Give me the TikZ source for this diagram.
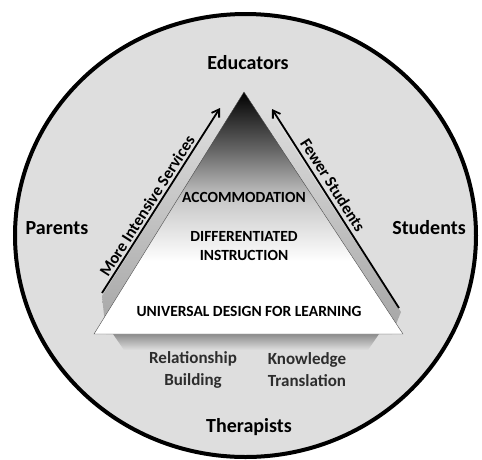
\documentclass[tikz,border=0pt]{standalone}
\usepackage{fontspec}
\setmainfont{Carlito}
\usetikzlibrary{arrows.meta}

\definecolor{fondo}{RGB}{222,222,222}
\definecolor{sombra}{RGB}{165,165,165}
\definecolor{textogris}{RGB}{45,45,45}
\pgfdeclareverticalshading{piramide}{100bp}{color(0bp)=(white); color(40bp)=(white);
  color(53bp)=(black!22); color(63bp)=(black!60); color(75bp)=(black); color(100bp)=(black)}

\begin{document}
\begin{tikzpicture}[x=1pt, y=-1pt,
    actor/.style={font=\fontsize{20}{22}\selectfont\bfseries},
    nivel/.style={font=\fontsize{15.5}{19}\selectfont\bfseries, align=center},
    puente/.style={font=\fontsize{17}{22}\selectfont\bfseries, text=textogris, align=center},
    flecha/.style={line width=1.8pt, -{Straight Barb[length=7pt,width=9pt]}},
    rotulo/.style={font=\fontsize{16.5}{17}\selectfont\bfseries}]
    \useasboundingbox (0,0) rectangle (482,459);

    % Círculo exterior
    \draw[line width=4pt, fill=fondo] (245.5,235.5) ellipse (230.5 and 221.5);

    % Sombra del triángulo
    \shade[top color=fondo, bottom color=sombra]
        (102,296) -- (221,108) -- (268,108) -- (401,312) -- (392,334) -- (106,334) -- cycle;
    \shade[top color=black!45, bottom color=fondo]
        (113,334) -- (379,334) -- (368,350) -- (124,350) -- cycle;

    % Triángulo
    \draw[black!70, thin, shading=piramide] (244,92) -- (403,334) -- (94,334) -- cycle;

    % Flechas
    \coordinate (servtail) at (102,293);
    \coordinate (servhead) at (220,108);
    \coordinate (studtail) at (399,308);
    \coordinate (studhead) at (272,109);
    \draw[flecha] (servtail) -- (servhead);
    \draw[flecha] (studtail) -- (studhead);

    % Rótulos de las flechas
    \node[rotulo, rotate=57.5] (moreserv) at (147,206) {More Intensive Services};
    \node[rotulo, rotate=-57.5] (fewerstud) at (333,185) {Fewer Students};

    % Actores
    \node[actor] (educators) at (248,63) {Educators};
    \node[actor] (parents) at (57,228) {Parents};
    \node[actor] (students) at (429,228) {Students};
    \node[actor] (therapists) at (249,427) {Therapists};

    % Niveles
    \node[nivel] (accom) at (244,197) {ACCOMMODATION};
    \node[nivel] (diffinstr) at (244,246) {DIFFERENTIATED\\INSTRUCTION};
    \node[nivel] (udl) at (249,311) {UNIVERSAL DESIGN FOR LEARNING};

    % Relaciones
    \node[puente] (relbuild) at (193,370) {Relationship\\Building};
    \node[puente] (knowtrans) at (307,370) {Knowledge\\Translation};
\end{tikzpicture}
\end{document}
